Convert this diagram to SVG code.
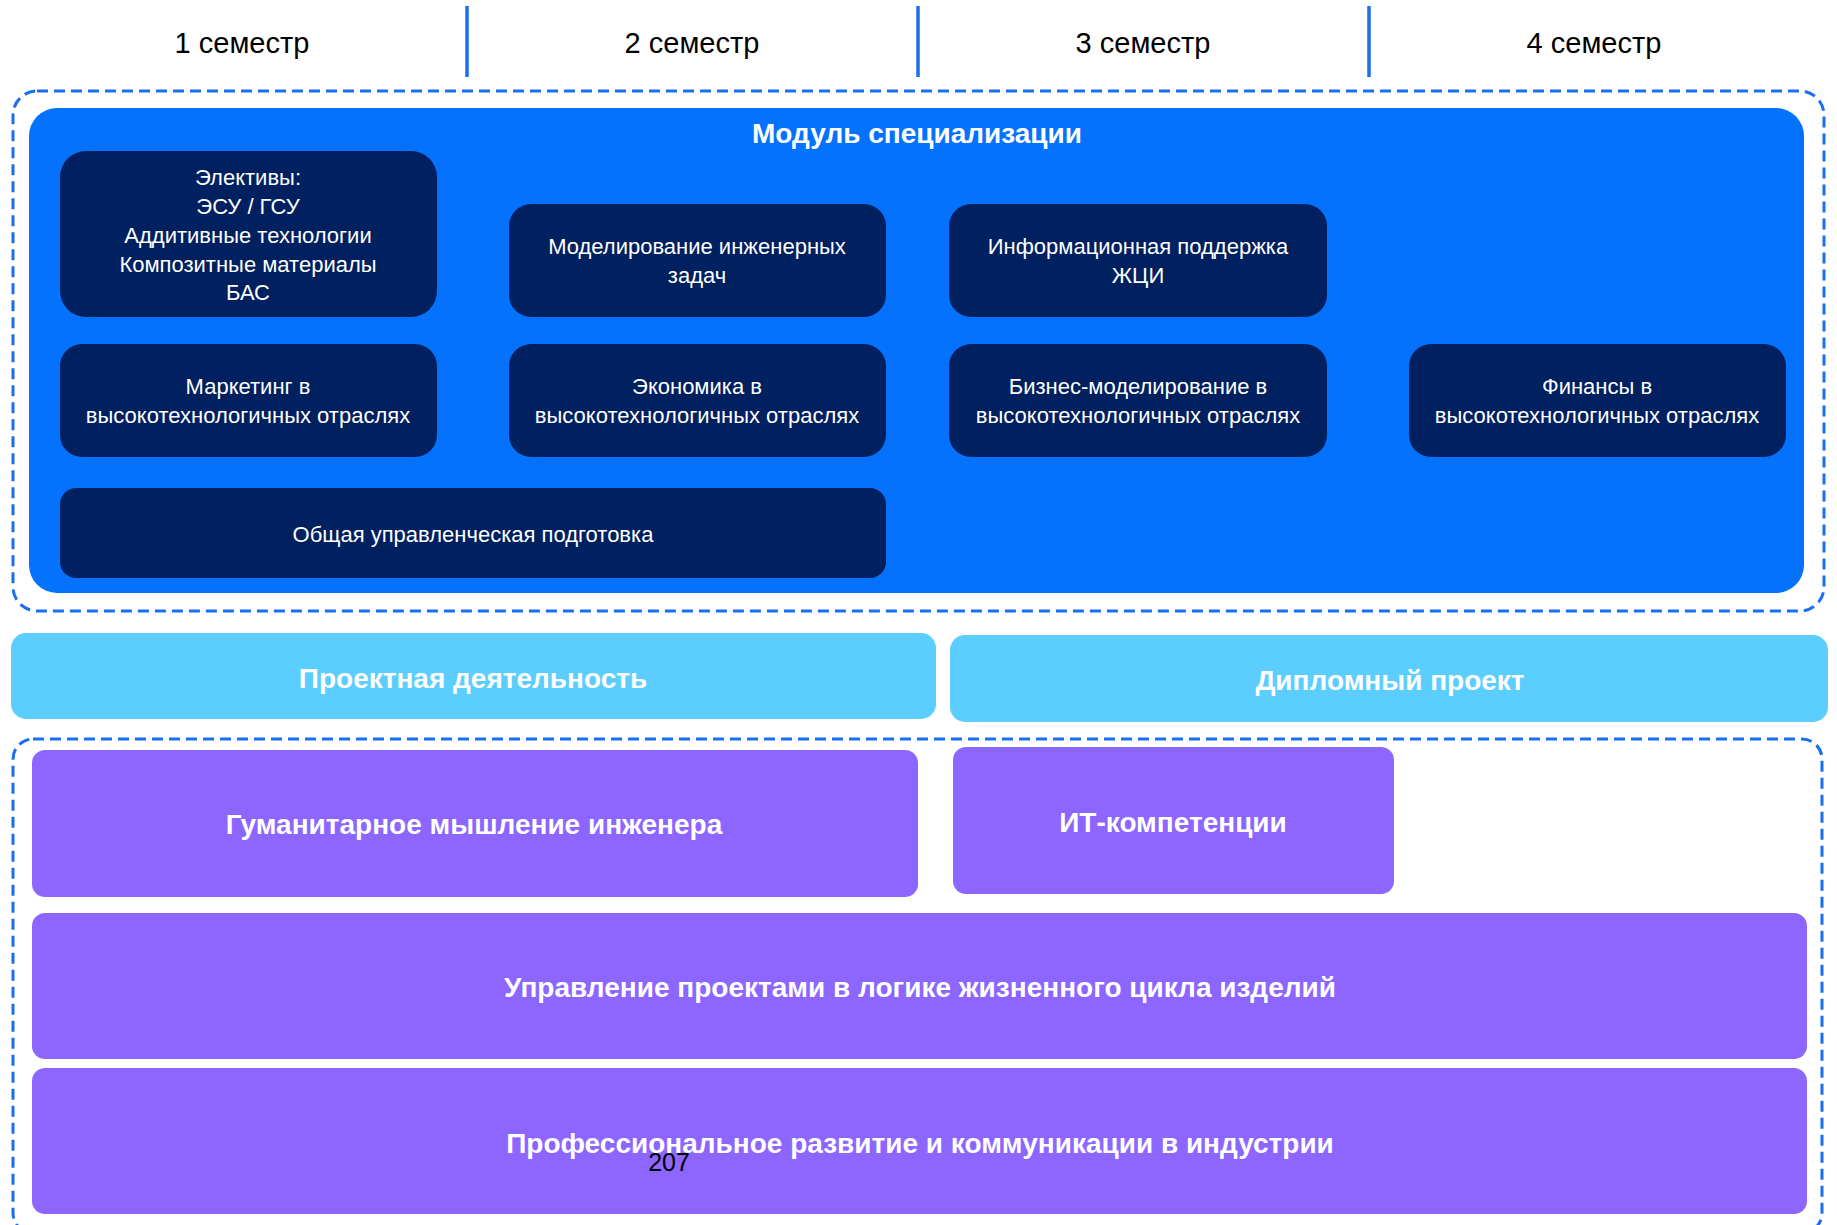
<svg xmlns="http://www.w3.org/2000/svg" width="1837" height="1225" viewBox="0 0 1837 1225">
<style>
.sem{font-family:"Liberation Sans",Arial,sans-serif;font-size:29px;fill:#000;text-anchor:middle}
.div{stroke:#1A6FF0;stroke-width:3.5}
.dash{fill:none;stroke:#1A6FF0;stroke-width:3;stroke-dasharray:11 6}
.dark{fill:#002060}
.dt{font-family:"Liberation Sans",Arial,sans-serif;font-size:22px;fill:#fff;text-anchor:middle}
.lb{fill:#5BCEFF}
.pu{fill:#8C66FF}
.bt{font-family:"Liberation Sans",Arial,sans-serif;font-weight:bold;font-size:28px;fill:#fff;text-anchor:middle}
</style>
<rect width="1837" height="1225" fill="#fff"/>
<g id="semesters">
<text class="sem" x="242" y="53">1 семестр</text>
<text class="sem" x="692" y="53">2 семестр</text>
<text class="sem" x="1143" y="53">3 семестр</text>
<text class="sem" x="1594" y="53">4 семестр</text>
<line class="div" x1="467" y1="6" x2="467" y2="77"/>
<line class="div" x1="918" y1="6" x2="918" y2="77"/>
<line class="div" x1="1369" y1="6" x2="1369" y2="77"/>
</g>
<g id="module">
<rect class="dash" x="13" y="91" width="1811" height="520" rx="24"/>
<rect x="29" y="108" width="1775" height="485" rx="28" fill="#0572FE"/>
<text class="bt" x="917" y="143">Модуль специализации</text>
</g>
<g id="electives">
<rect class="dark" x="60" y="151" width="377" height="166" rx="26"/>
<text class="dt" x="248" y="185">Элективы:</text>
<text class="dt" x="248" y="214">ЭСУ / ГСУ</text>
<text class="dt" x="248" y="243">Аддитивные технологии</text>
<text class="dt" x="248" y="272">Композитные материалы</text>
<text class="dt" x="248" y="300">БАС</text>
</g>
<g id="modeling">
<rect class="dark" x="509" y="204" width="377" height="113" rx="22"/>
<text class="dt" x="697" y="254">Моделирование инженерных</text>
<text class="dt" x="697" y="283">задач</text>
</g>
<g id="info">
<rect class="dark" x="949" y="204" width="378" height="113" rx="22"/>
<text class="dt" x="1138" y="254">Информационная поддержка</text>
<text class="dt" x="1138" y="283">ЖЦИ</text>
</g>
<g id="marketing">
<rect class="dark" x="60" y="344" width="377" height="113" rx="22"/>
<text class="dt" x="248" y="394">Маркетинг в</text>
<text class="dt" x="248" y="423">высокотехнологичных отраслях</text>
</g>
<g id="economics">
<rect class="dark" x="509" y="344" width="377" height="113" rx="22"/>
<text class="dt" x="697" y="394">Экономика в</text>
<text class="dt" x="697" y="423">высокотехнологичных отраслях</text>
</g>
<g id="business">
<rect class="dark" x="949" y="344" width="378" height="113" rx="22"/>
<text class="dt" x="1138" y="394">Бизнес-моделирование в</text>
<text class="dt" x="1138" y="423">высокотехнологичных отраслях</text>
</g>
<g id="finance">
<rect class="dark" x="1409" y="344" width="377" height="113" rx="22"/>
<text class="dt" x="1597" y="394">Финансы в</text>
<text class="dt" x="1597" y="423">высокотехнологичных отраслях</text>
</g>
<g id="management">
<rect class="dark" x="60" y="488" width="826" height="90" rx="16"/>
<text class="dt" x="473" y="542">Общая управленческая подготовка</text>
</g>
<g id="project">
<rect class="lb" x="11" y="633" width="925" height="86" rx="15"/>
<text class="bt" x="473" y="688">Проектная деятельность</text>
</g>
<g id="diploma">
<rect class="lb" x="950" y="635" width="878" height="87" rx="15"/>
<text class="bt" x="1390" y="690">Дипломный проект</text>
</g>
<g id="core">
<rect class="dash" x="13" y="739" width="1809" height="494" rx="20"/>
</g>
<g id="humanities">
<rect class="pu" x="32" y="750" width="886" height="147" rx="13"/>
<text class="bt" x="474" y="834">Гуманитарное мышление инженера</text>
</g>
<g id="it">
<rect class="pu" x="953" y="747" width="441" height="147" rx="13"/>
<text class="bt" x="1173" y="832">ИТ-компетенции</text>
</g>
<g id="lifecycle">
<rect class="pu" x="32" y="913" width="1775" height="146" rx="13"/>
<text class="bt" x="920" y="997">Управление проектами в логике жизненного цикла изделий</text>
</g>
<g id="professional">
<rect class="pu" x="32" y="1068" width="1775" height="146" rx="13"/>
<text class="bt" x="920" y="1153">Профессиональное развитие и коммуникации в индустрии</text>
</g>
<g id="connectors"></g>
<text x="669" y="1171" font-family="Liberation Sans, Arial, sans-serif" font-size="25" fill="#000" text-anchor="middle">207</text>
</svg>
